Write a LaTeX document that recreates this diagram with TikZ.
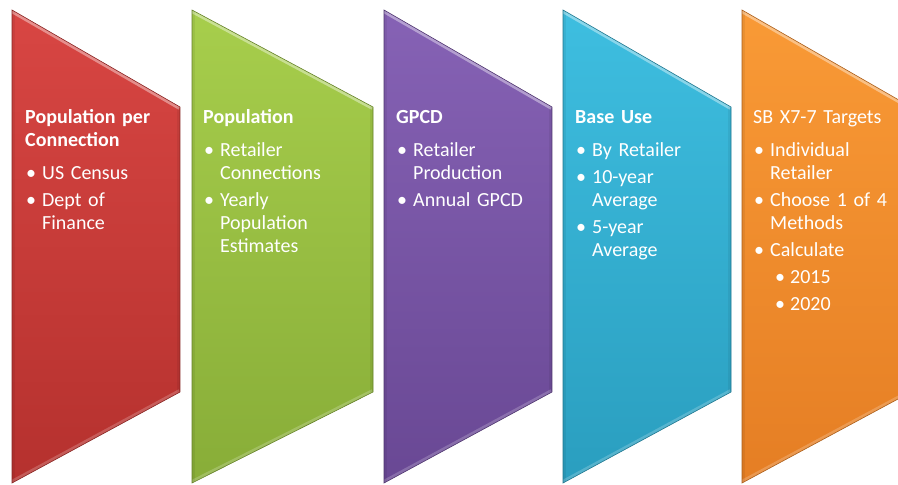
\documentclass[tikz,border=0pt]{standalone}
\usepackage{fontspec}
\setmainfont{Carlito}
\newcommand\bulx{\makebox[12pt][c]{\textbullet}\hspace{5pt}}
\newcommand\indx{\hspace*{17pt}}
\newcommand\subbul{\hspace*{21pt}\makebox[12pt][c]{\textbullet}\hspace{4pt}}
\newcommand\chev[4]{%
  \begin{scope}
    \clip (#1,10) -- (#2,107) -- (#2,392) -- (#1,483) -- cycle;
    \shade[top color=#3, bottom color=#4] (#1,10) rectangle (#2,483);
    \draw[line width=6pt, white, opacity=.4] (#1,10) -- (#2,107);
    \draw[line width=6pt, white, opacity=.2] (#1,483) -- (#2,392);
    \draw[line width=6pt, black, opacity=.06] (#1,10) -- (#1,483) (#2,107) -- (#2,392);
  \end{scope}
  \draw[#4!75!black, line width=0.6pt, line join=miter] (#1,10) -- (#2,107) -- (#2,392) -- (#1,483) -- cycle;
}
\definecolor{redT}{HTML}{D84643}
\definecolor{redB}{HTML}{B5312E}
\definecolor{grnT}{HTML}{A7CE4C}
\definecolor{grnB}{HTML}{88AD38}
\definecolor{purT}{HTML}{8662B5}
\definecolor{purB}{HTML}{694894}
\definecolor{bluT}{HTML}{3EBEE0}
\definecolor{bluB}{HTML}{2A9EBF}
\definecolor{orgT}{HTML}{F99A36}
\definecolor{orgB}{HTML}{E57E24}
\begin{document}
\begin{tikzpicture}[x=1pt,y=-1pt,
  txt/.style={anchor=base west, inner sep=0pt, text=white,
    font=\fontsize{20}{23}\selectfont, text width=170pt, align=left}]
\clip (0,0) rectangle (898,485);
\fill[white] (0,0) rectangle (898,485);
\chev{12}{180}{redT}{redB}
\chev{192}{373}{grnT}{grnB}
\chev{384}{552}{purT}{purB}
\chev{563}{731}{bluT}{bluB}
\chev{742}{911}{orgT}{orgB}
\node[txt] (t1) at (25,123) {\textbf{Population per}\\\textbf{Connection}\\[10pt]
  \bulx US Census\\[4pt]
  \bulx Dept of\\\indx Finance};
\node[txt] (t2) at (203,123) {\textbf{Population}\\[10pt]
  \bulx Retailer\\\indx Connections\\[4pt]
  \bulx Yearly\\\indx Population\\\indx Estimates};
\node[txt] (t3) at (396,123) {\textbf{GPCD}\\[10pt]
  \bulx Retailer\\\indx Production\\[4pt]
  \bulx Annual GPCD};
\node[txt] (t4) at (575,123) {\textbf{Base Use}\\[10pt]
  \bulx By Retailer\\[4pt]
  \bulx 10-year\\\indx Average\\[4pt]
  \bulx 5-year\\\indx Average};
\node[txt] (t5) at (753,123) {SB X7-7 Targets\\[10pt]
  \bulx Individual\\\indx Retailer\\[4pt]
  \bulx Choose 1 of 4\\\indx Methods\\[4pt]
  \bulx Calculate\\[4pt]
  \subbul 2015\\[4pt]
  \subbul 2020};
\end{tikzpicture}
\end{document}
